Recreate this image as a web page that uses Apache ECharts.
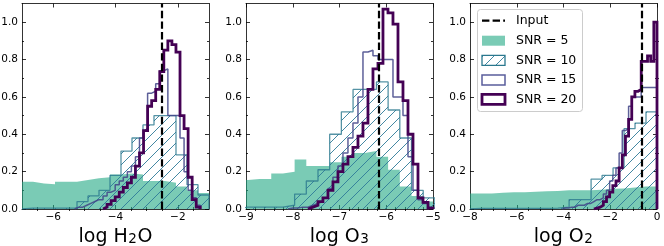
<!DOCTYPE html>
<html><head><meta charset="utf-8">
<script src="https://cdn.jsdelivr.net/npm/echarts@6/dist/echarts.min.js"></script>
<style>html,body{margin:0;padding:0;background:#fff}#c{width:664px;height:246px}</style>
</head><body><div id="c"></div>
<script>
// ---------------- data ----------------
// Panel 1: log H2O
const h2o_wide_edges = [-7.0,-6.647,-6.294,-5.941,-5.588,-5.235,-4.882,-4.529,-4.176,-3.824,-3.471,-3.118,-2.765,-2.412,-2.059,-1.706,-1.353,-1.0];
const h2o_snr5  = [0.146,0.137,0.132,0.146,0.146,0.155,0.165,0.170,0.185,0.190,0.185,0.150,0.150,0.140,0.120,0.100,0.085];
const h2o_snr10 = [0.005,0.005,0.005,0.005,0.005,0.040,0.070,0.100,0.180,0.310,0.380,0.450,0.500,0.500,0.290,0.130,0.075];
const h2o_fine_edges = [-5.31,-5.18,-5.05,-4.92,-4.79,-4.66,-4.53,-4.40,-4.27,-4.14,-4.01,-3.88,-3.75,-3.62,-3.49,-3.36,-3.23,-3.10,-2.97,-2.84,-2.71,-2.58,-2.45,-2.32,-2.19,-2.06,-1.93,-1.80,-1.67,-1.54,-1.41,-1.28];
const h2o_snr15 = [0.01,0.01,0.02,0.03,0.04,0.05,0.05,0.07,0.09,0.10,0.13,0.15,0.17,0.20,0.23,0.28,0.38,0.42,0.62,0.63,0.67,0.74,0.75,0.50,0.50,0.50,0.38,0.20,0.10,0.06,0.02];
const h2o_snr20_start = 7; // first fine edge used by SNR=20
const h2o_snr20 = [0.01,0.025,0.045,0.065,0.09,0.115,0.14,0.17,0.23,0.30,0.42,0.55,0.58,0.64,0.735,0.85,0.90,0.88,0.84,0.50,0.43,0.17,0.05,0.01];
const h2o_input = -2.52;

// Panel 2: log O3
const o3_wide_edges = [-9.21,-8.96,-8.71,-8.46,-8.21,-7.96,-7.71,-7.46,-7.21,-6.96,-6.71,-6.46,-6.21,-5.96,-5.71,-5.46,-5.21,-4.96];
const o3_snr5  = [0.155,0.160,0.160,0.190,0.200,0.265,0.230,0.230,0.250,0.280,0.300,0.310,0.280,0.210,0.120,0.070,0.040];
const o3_snr10 = [0.010,0.010,0.010,0.010,0.020,0.080,0.150,0.210,0.400,0.520,0.640,0.640,0.680,0.530,0.380,0.100,0.060];
const o3_fine_edges = [-8.103,-7.996,-7.889,-7.782,-7.675,-7.568,-7.461,-7.354,-7.247,-7.140,-7.033,-6.926,-6.819,-6.712,-6.605,-6.498,-6.391,-6.284,-6.177,-6.070,-5.963,-5.856,-5.749,-5.642,-5.535,-5.428,-5.321,-5.214,-5.107,-5.000];
const o3_snr15 = [0.005,0.005,0.01,0.01,0.02,0.03,0.04,0.06,0.11,0.17,0.23,0.30,0.38,0.46,0.60,0.84,0.85,0.82,0.80,0.80,0.80,0.60,0.60,0.50,0.28,0.10,0.05,0.03,0.01];
const o3_snr20_start = 4;
const o3_snr20 = [0.01,0.02,0.04,0.06,0.10,0.145,0.20,0.24,0.28,0.33,0.39,0.46,0.64,0.75,0.78,1.07,1.05,0.99,0.68,0.58,0.40,0.24,0.06,0.035,0.005];
const o3_input = -6.15;

// Panel 3: log O2
const o2_wide_edges = [-8.0,-7.53,-7.06,-6.59,-6.12,-5.65,-5.18,-4.71,-4.24,-3.76,-3.29,-2.82,-2.35,-1.88,-1.41,-0.94,-0.47,0.0];
const o2_snr5  = [0.083,0.083,0.087,0.090,0.090,0.093,0.095,0.097,0.100,0.100,0.100,0.103,0.108,0.110,0.115,0.120,0.120];
const o2_snr10 = [0.003,0.003,0.003,0.003,0.003,0.003,0.003,0.005,0.010,0.050,0.050,0.160,0.180,0.220,0.430,0.460,0.520];
const o2_fine_edges = [-4.05,-3.915,-3.78,-3.645,-3.51,-3.375,-3.24,-3.105,-2.97,-2.835,-2.7,-2.565,-2.43,-2.295,-2.16,-2.025,-1.89,-1.755,-1.62,-1.485,-1.35,-1.215,-1.08,-0.945,-0.81,-0.675,-0.54,-0.405,-0.27,-0.135,0.0];
const o2_snr15 = [0.005,0.005,0.01,0.01,0.02,0.02,0.02,0.03,0.03,0.04,0.05,0.05,0.06,0.08,0.10,0.15,0.18,0.22,0.30,0.42,0.43,0.55,0.60,0.60,0.60,0.65,0.65,0.65,0.65,0.65];
const o2_snr20_start = 10;
const o2_snr20 = [0.005,0.01,0.02,0.04,0.065,0.09,0.125,0.15,0.22,0.29,0.39,0.48,0.60,0.63,0.64,0.79,0.79,0.82,0.79,1.0];
const o2_input = -0.67;

// axis ranges and ticks
const xRanges = [[-7,-1],[-9,-5],[-8,0]];
const xMajorTicks = [[-6,-4,-2],[-9,-8,-7,-6,-5],[-8,-6,-4,-2,0]];
const xMinorTicks = [
  [-6.5,-5.5,-5,-4.5,-3.5,-3,-2.5,-1.5],
  [-8.8,-8.6,-8.4,-8.2,-7.8,-7.6,-7.4,-7.2,-6.8,-6.6,-6.4,-6.2,-5.8,-5.6,-5.4,-5.2],
  [-7.5,-7,-6.5,-5.5,-5,-4.5,-3.5,-3,-2.5,-1.5,-1,-0.5]
];
const yRange = [0, 1.1];
const yMajorTicks = [0,0.2,0.4,0.6,0.8,1.0];
const yMinorTicks = [0.1,0.3,0.5,0.7,0.9];
// axis titles: [main text, subscript, trailing text]
const xNameParts = [['log H','2','O'],['log O','3',''],['log O','2','']];
const seriesNames = ['SNR = 5','SNR = 10','SNR = 15','SNR = 20'];
const inputName = 'Input';

// ---------------- chart ----------------
const FONT = 'DejaVu Sans';
const C5 = 'rgba(34,168,132,0.6)', C10 = '#2a788e', C15 = '#414487', C20 = '#440154';
const panelLefts = [22, 246, 470];
const PW = 187, PT = 3.5, PH = 205.5;

function makeHatch(color){
  const s = 11;
  const c = document.createElement('canvas');
  c.width = s; c.height = s;
  const ctx = c.getContext('2d');
  ctx.strokeStyle = color; ctx.lineWidth = 0.9;
  ctx.beginPath();
  ctx.moveTo(0, s); ctx.lineTo(s, 0);
  ctx.moveTo(-s/2, s/2); ctx.lineTo(s/2, -s/2);
  ctx.moveTo(s/2, s*1.5); ctx.lineTo(s*1.5, s/2);
  ctx.stroke();
  return c;
}
const hatch = {image: makeHatch('#2f7a99'), repeat: 'repeat'};

function stepPoints(edges, vals){
  const pts = [[edges[0], 0]];
  for (let i = 0; i < vals.length; i++){
    pts.push([edges[i], vals[i]]);
    pts.push([edges[i+1], vals[i]]);
  }
  pts.push([edges[vals.length], 0]);
  return pts;
}

const panels = [
  {wide: h2o_wide_edges, s5: h2o_snr5, s10: h2o_snr10, fine: h2o_fine_edges, s15: h2o_snr15, s20: h2o_snr20, s20start: h2o_snr20_start, input: h2o_input},
  {wide: o3_wide_edges, s5: o3_snr5, s10: o3_snr10, fine: o3_fine_edges, s15: o3_snr15, s20: o3_snr20, s20start: o3_snr20_start, input: o3_input},
  {wide: o2_wide_edges, s5: o2_snr5, s10: o2_snr10, fine: o2_fine_edges, s15: o2_snr15, s20: o2_snr20, s20start: o2_snr20_start, input: o2_input}
];

const lineSt = {color: '#000', width: 0.8};
const fmtMinus = v => (v < 0 ? '\u2212' : '') + Math.abs(v);
const grids = [], xAxes = [], yAxes = [], series = [];

function richName(parts){
  let s = '{n|' + parts[0] + '}{s|' + parts[1] + '}';
  if (parts[2]) s += '{n|' + parts[2] + '}';
  return s;
}

panels.forEach((p, g) => {
  grids.push({left: panelLefts[g], top: PT, width: PW, height: PH, containLabel: false, outerBoundsMode: 'none'});
  const xb = {gridIndex: g, type: 'value', min: xRanges[g][0], max: xRanges[g][1], splitLine: {show: false}, axisPointer: {show: false}};
  xAxes.push(Object.assign({}, xb, {
    position: 'bottom',
    axisLine: {show: true, onZero: false, lineStyle: lineSt},
    axisTick: {show: true, inside: true, length: 4, customValues: xMajorTicks[g], lineStyle: lineSt},
    axisLabel: {show: true, customValues: xMajorTicks[g], formatter: fmtMinus, margin: 3, color: '#000', fontFamily: FONT, fontSize: 10.5},
    name: richName(xNameParts[g]), nameLocation: 'middle', nameGap: 9,
    nameTextStyle: {fontSize: 19, fontFamily: FONT, color: '#000',
      rich: {
        n: {fontSize: 19, fontFamily: FONT, color: '#000', lineHeight: 19, verticalAlign: 'top'},
        s: {fontSize: 13.5, fontFamily: FONT, color: '#000', lineHeight: 6, verticalAlign: 'bottom', padding: [0, 0.5, 0, 0.5]}
      }}
  }));
  xAxes.push(Object.assign({}, xb, {position: 'bottom', axisLine: {show: false}, axisTick: {show: true, inside: true, length: 2, customValues: xMinorTicks[g], lineStyle: lineSt}, axisLabel: {show: false}}));
  xAxes.push(Object.assign({}, xb, {position: 'top', axisLine: {show: true, onZero: false, lineStyle: lineSt}, axisTick: {show: true, inside: true, length: 4, customValues: xMajorTicks[g], lineStyle: lineSt}, axisLabel: {show: false}}));
  xAxes.push(Object.assign({}, xb, {position: 'top', axisLine: {show: false}, axisTick: {show: true, inside: true, length: 2, customValues: xMinorTicks[g], lineStyle: lineSt}, axisLabel: {show: false}}));

  const yb = {gridIndex: g, type: 'value', min: yRange[0], max: yRange[1], splitLine: {show: false}, axisPointer: {show: false}};
  yAxes.push(Object.assign({}, yb, {
    position: 'left',
    axisLine: {show: true, onZero: false, lineStyle: lineSt},
    axisTick: {show: true, inside: true, length: 4, customValues: yMajorTicks, lineStyle: lineSt},
    axisLabel: {show: true, customValues: yMajorTicks, formatter: v => v.toFixed(1), margin: 4, color: '#000', fontFamily: FONT, fontSize: 10.5}
  }));
  yAxes.push(Object.assign({}, yb, {position: 'left', axisLine: {show: false}, axisTick: {show: true, inside: true, length: 2, customValues: yMinorTicks, lineStyle: lineSt}, axisLabel: {show: false}}));
  yAxes.push(Object.assign({}, yb, {position: 'right', axisLine: {show: true, onZero: false, lineStyle: lineSt}, axisTick: {show: true, inside: true, length: 4, customValues: yMajorTicks, lineStyle: lineSt}, axisLabel: {show: false}}));
  yAxes.push(Object.assign({}, yb, {position: 'right', axisLine: {show: false}, axisTick: {show: true, inside: true, length: 2, customValues: yMinorTicks, lineStyle: lineSt}, axisLabel: {show: false}}));

  const ax = {xAxisIndex: 4*g, yAxisIndex: 4*g, type: 'line', showSymbol: false, symbol: 'none', smooth: false, silent: true, clip: true, emphasis: {disabled: true}, animation: false};
  series.push(Object.assign({}, ax, {name: seriesNames[0], data: stepPoints(p.wide, p.s5), z: 1,
    lineStyle: {width: 0, opacity: 0}, areaStyle: {color: C5, opacity: 1}}));
  series.push(Object.assign({}, ax, {name: seriesNames[1], data: stepPoints(p.wide, p.s10), z: 2,
    lineStyle: {color: C10, width: 1.3, opacity: 0.8}, areaStyle: {color: hatch, opacity: 1}}));
  series.push(Object.assign({}, ax, {name: seriesNames[2], data: stepPoints(p.fine, p.s15), z: 3,
    lineStyle: {color: C15, width: 1.5, opacity: 0.85}}));
  series.push(Object.assign({}, ax, {name: seriesNames[3], data: stepPoints(p.fine.slice(p.s20start), p.s20), z: 4,
    lineStyle: {color: C20, width: 2.8, join: 'miter'}}));
  series.push(Object.assign({}, ax, {name: inputName, data: [], z: 5,
    markLine: {silent: true, symbol: ['none','none'], label: {show: false}, animation: false,
      lineStyle: {color: '#000', width: 2.2, type: [7.4, 3.2]},
      emphasis: {disabled: true},
      data: [{xAxis: p.input}]}}));
});

// legend (drawn as graphic elements, matching the matplotlib legend box)
const LX = 482, LW = 23, TX = 516;
const rowsY = [20.7, 40.7, 60.3, 80, 99.3];
const txt = (t, y) => ({type: 'text', x: TX, y: y, z: 101, silent: true,
  style: {text: t, fontSize: 12.5, fontFamily: FONT, fill: '#000', verticalAlign: 'middle', align: 'left'}});
const graphic = [
  {type: 'rect', z: 100, silent: true, shape: {x: 477.5, y: 9.5, width: 105, height: 102, r: 3},
    style: {fill: 'rgba(255,255,255,0.8)', stroke: '#cccccc', lineWidth: 1}},
  {type: 'line', z: 101, silent: true, shape: {x1: LX, y1: rowsY[0], x2: LX + LW, y2: rowsY[0]},
    style: {stroke: '#000', lineWidth: 2.2, lineDash: [7.4, 3.2]}},
  {type: 'rect', z: 101, silent: true, shape: {x: LX, y: rowsY[1]-5, width: LW, height: 10}, style: {fill: C5}},
  {type: 'rect', z: 101, silent: true, shape: {x: LX, y: rowsY[2]-5, width: LW, height: 10}, style: {fill: hatch, stroke: C10, lineWidth: 1.3, opacity: 1}},
  {type: 'rect', z: 101, silent: true, shape: {x: LX, y: rowsY[3]-5, width: LW, height: 10}, style: {fill: 'none', stroke: '#5a5d9c', lineWidth: 1.5}},
  {type: 'rect', z: 101, silent: true, shape: {x: LX, y: rowsY[4]-5, width: LW, height: 10}, style: {fill: 'none', stroke: C20, lineWidth: 2.8}},
  txt(inputName, rowsY[0]), txt(seriesNames[0], rowsY[1]), txt(seriesNames[1], rowsY[2]), txt(seriesNames[2], rowsY[3]), txt(seriesNames[3], rowsY[4])
];

const chart = echarts.init(document.getElementById('c'), null, {renderer: 'canvas'});
chart.setOption({
  animation: false,
  backgroundColor: '#fff',
  textStyle: {fontFamily: FONT},
  grid: grids, xAxis: xAxes, yAxis: yAxes, series: series, graphic: graphic
});
</script></body></html>
